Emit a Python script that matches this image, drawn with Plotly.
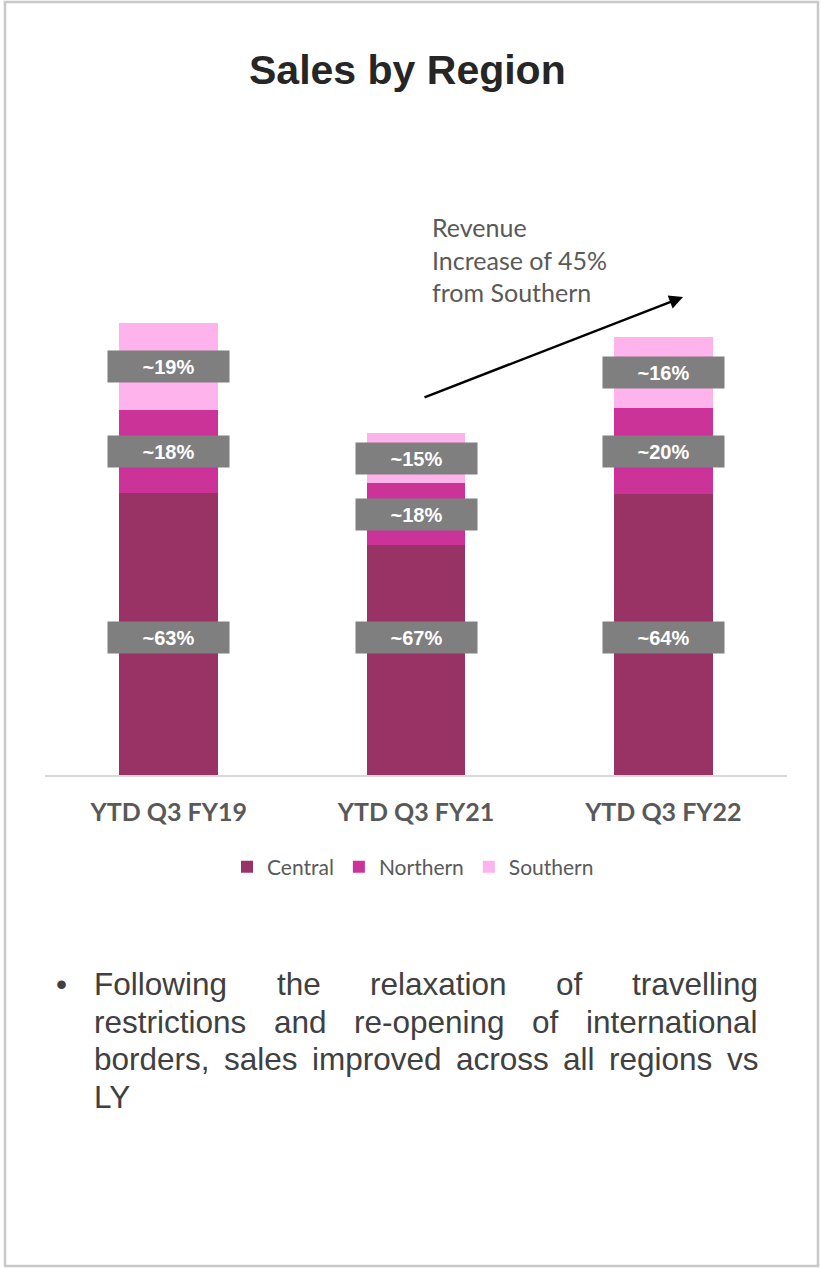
import plotly.graph_objects as go

# ---------------- data ----------------
categories = ["YTD Q3 FY19", "YTD Q3 FY21", "YTD Q3 FY22"]
central = [282, 230, 281]
northern = [83, 62, 86]
southern = [87, 50, 71]
central_labels = ["~63%", "~67%", "~64%"]
northern_labels = ["~18%", "~18%", "~20%"]
southern_labels = ["~19%", "~15%", "~16%"]
series_names = ["Central", "Northern", "Southern"]
series_colors = ["#993366", "#CC3399", "#FFB3EC"]
note_text = "Revenue<br>Increase of 45%<br>from Southern"
bullet_lines = [
    "Following the relaxation of travelling",
    "restrictions and re-opening of international",
    "borders, sales improved across all regions vs",
    "LY",
]

W, H = 821, 1268


def px_x(p):
    return p / W


def px_y(p):
    return 1 - p / H


fig = go.Figure()
for name, vals, col in zip(series_names, [central, northern, southern], series_colors):
    fig.add_trace(go.Bar(x=categories, y=vals, name=name, marker_color=col,
                         marker_line_width=0, width=0.4))

annotations = []
# value labels (gray boxes)
label_font = dict(family="Liberation Sans, Arial", size=20, color="white")
for i, cat in enumerate(categories):
    ys = [138,
          central[i] + northern[i] / 2,
          central[i] + northern[i] + southern[i] / 2]
    texts = [central_labels[i], northern_labels[i], southern_labels[i]]
    for yv, t in zip(ys, texts):
        annotations.append(dict(x=cat, y=yv, xref="x", yref="y", text="<b>%s</b>" % t,
                                showarrow=False, bgcolor="#7F7F7F", width=121, height=31,
                                borderpad=0, font=label_font, xanchor="center", yanchor="middle"))

# title
annotations.append(dict(x=px_x(407), y=px_y(70), xref="paper", yref="paper",
                        text="<b>Sales by Region</b>", showarrow=False,
                        font=dict(family="Liberation Sans, Arial", size=41, color="#262626"),
                        xanchor="center", yanchor="middle"))

# revenue note
annotations.append(dict(x=px_x(430), y=px_y(210), xref="paper", yref="paper",
                        text=note_text, showarrow=False, align="left",
                        font=dict(family="Lato", size=25, color="#595959"),
                        xanchor="left", yanchor="top"))
# arrow
annotations.append(dict(x=px_x(683), y=px_y(297), xref="paper", yref="paper",
                        text="", showarrow=True, ax=-260, ay=101,
                        arrowhead=2, arrowsize=1.1, arrowwidth=2.5, arrowcolor="black"))

# bullet text, justified with Arial metrics
AW = {' ': 278, ',': 278, '-': 333, 'a': 556, 'b': 556, 'c': 500, 'd': 556, 'e': 556,
      'f': 278, 'g': 556, 'h': 556, 'i': 222, 'l': 222, 'm': 833, 'n': 556, 'o': 556,
      'p': 556, 'r': 333, 's': 500, 't': 278, 'v': 500, 'w': 722, 'x': 500, 'F': 611,
      'L': 556, 'Y': 667}
fs = 31.5
left, right = 93, 757
base_y = 984
line_gap = 37.5
bfont = dict(family="Liberation Sans, Arial", size=fs, color="#404040")


def wwidth(w):
    return sum(AW.get(c, 556) for c in w) * fs / 1000.0


annotations.append(dict(x=px_x(61), y=px_y(base_y), xref="paper", yref="paper",
                        text="•", showarrow=False, font=bfont, xanchor="center",
                        yanchor="middle", borderpad=0))
for li, line in enumerate(bullet_lines):
    words = line.split(" ")
    yy = px_y(base_y + li * line_gap)
    if li < len(bullet_lines) - 1 and len(words) > 1:
        widths = [wwidth(w) for w in words]
        gap = (right - left - sum(widths)) / (len(words) - 1)
        x = left
        for w, wd in zip(words, widths):
            annotations.append(dict(x=px_x(x), y=yy, xref="paper", yref="paper", text=w,
                                    showarrow=False, font=bfont, xanchor="left",
                                    yanchor="middle", borderpad=0))
            x += wd + gap
    else:
        annotations.append(dict(x=px_x(left), y=yy, xref="paper", yref="paper", text=line,
                                showarrow=False, font=bfont, xanchor="left",
                                yanchor="middle", borderpad=0))

shapes = [dict(type="rect", xref="paper", yref="paper", x0=px_x(5), x1=px_x(818),
               y0=px_y(1266), y1=px_y(2), line=dict(color="#C8C8C8", width=2.5),
               fillcolor="rgba(0,0,0,0)", layer="below")]

fig.update_layout(
    width=W, height=H, margin=dict(l=0, r=0, t=0, b=0),
    paper_bgcolor="white", plot_bgcolor="white",
    barmode="stack", bargap=0.6,
    xaxis=dict(domain=[px_x(45), px_x(787)], range=[-0.5, 2.5],
               showline=True, linecolor="#D9D9D9", linewidth=2, showgrid=False,
               zeroline=False, ticks="", tickvals=categories,
               ticktext=["<b>%s</b>" % c for c in categories],
               tickfont=dict(family="Lato", size=25, color="#595959"),
               ticklabelstandoff=14, fixedrange=True),
    yaxis=dict(domain=[1 - 775 / H, 1 - 275 / H], range=[0, 500], visible=False,
               showgrid=False, zeroline=False),
    showlegend=True,
    legend=dict(orientation="h", x=px_x(413), xanchor="center", y=px_y(867),
                yanchor="middle", font=dict(family="Lato", size=21, color="#595959"),
                bgcolor="rgba(0,0,0,0)", traceorder="normal"),
    annotations=annotations, shapes=shapes,
)

fig.write_html("out.html")
